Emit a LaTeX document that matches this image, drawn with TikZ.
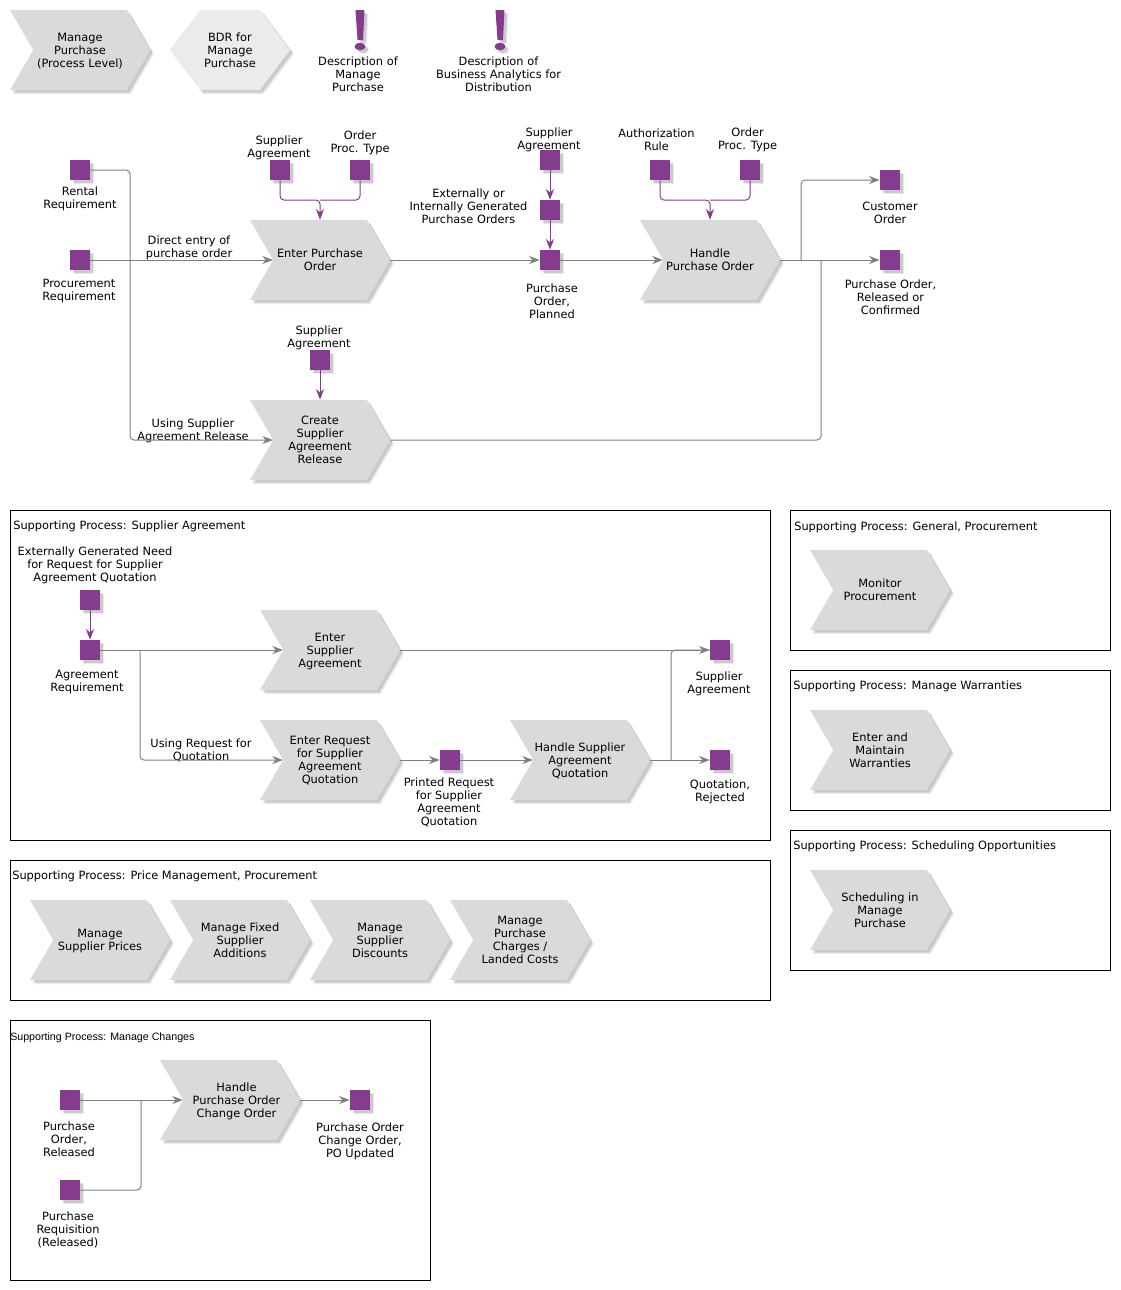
\documentclass[tikz,border=0pt]{standalone}
\usepackage{fontspec}
\setmainfont{DejaVu Sans}
\newfontfamily\titlefont{Liberation Sans}
\usetikzlibrary{shapes.symbols,shadows,arrows.meta}
\definecolor{procgray}{HTML}{D9DADC}
\definecolor{bdrgray}{HTML}{EBEBE9}
\definecolor{objpurple}{HTML}{863C8E}
\definecolor{flowgray}{HTML}{7F7F7F}
\begin{document}
\begin{tikzpicture}[
  x=0.75pt, y=-0.75pt,
  softshadow/.style={drop shadow={shadow xshift=3pt, shadow yshift=-3pt, fill=black, opacity=0.08}, drop shadow={shadow xshift=2pt, shadow yshift=-2pt, fill=black, opacity=0.14}},
  proc/.style={signal, signal from=west, signal to=east, signal pointer angle=119.6, fill=procgray, minimum width=105pt, minimum height=60pt, inner sep=0pt, font=\fontsize{8.55}{9.75}\selectfont, align=center, text depth=-1pt, softshadow},
  bdr/.style={signal, signal to=east and west, signal pointer angle=106, fill=bdrgray, minimum width=90pt, minimum height=60pt, inner sep=0pt, font=\fontsize{8.55}{9.75}\selectfont, align=center, text depth=-1pt, softshadow},
  obj/.style={rectangle, fill=objpurple, minimum size=15pt, inner sep=0pt, softshadow},
  lbl/.style={inner sep=0pt, font=\fontsize{8.55}{9.75}\selectfont, align=center},
  frame/.style={draw=black, line width=0.75pt},
  frametitle/.style={inner sep=0pt, anchor=west, yshift=-0.75pt, font=\fontsize{8.55}{9.75}\selectfont},
  bang/.style={fill=objpurple, softshadow},
  flow/.style={->, >={Stealth[length=8pt,width=6pt]}, draw=flowgray, line width=0.75pt, rounded corners=3pt},
  line/.style={draw=flowgray, line width=0.75pt, rounded corners=3pt},
  link/.style={->, >={Stealth[length=8pt,width=6pt]}, draw=objpurple, line width=0.75pt, rounded corners=3pt},
  linkline/.style={draw=objpurple, line width=0.75pt, rounded corners=3pt}
]
  \useasboundingbox (0,0) rectangle (1121,1290);

  % Kopfzeile
  \node[proc] (head) at (80,50) {Manage\\Purchase\\(Process Level)};
  \node[bdr] (bdrhead) at (230,50) {BDR for\\Manage\\Purchase};
  \fill[bang] (355.5,10) -- (364.5,10) -- (363,40) -- (357.5,40) -- cycle;
  \fill[bang] (360,46.5) ellipse (5.5 and 3.8);
  \fill[bang] (495.5,10) -- (504.5,10) -- (503,40) -- (497.5,40) -- cycle;
  \fill[bang] (500,46.5) ellipse (5.5 and 3.8);
  \node[lbl] (desca) at (358,74) {Description of\\Manage\\Purchase};
  \node[lbl] (descb) at (498.5,74) {Description of\\Business Analytics for\\Distribution};

  % Hauptprozess
  \node[obj] (rental) at (80,170) {};
  \node[lbl] (rentaltxt) at (80,198.5) {Rental\\Requirement};
  \node[obj] (procreq) at (80,260) {};
  \node[lbl] (procreqtxt) at (79,291.5) {Procurement\\Requirement};
  \node[proc] (enter) at (320,260) {Enter Purchase\\Order};
  \node[proc] (create) at (320,440) {Create\\Supplier\\Agreement\\Release};
  \node[proc] (handle) at (710,260) {Handle\\Purchase Order};
  \node[obj] (suppa) at (280,170) {};
  \node[lbl] (suppatxt) at (279,147.5) {Supplier\\Agreement};
  \node[obj] (ordera) at (360,170) {};
  \node[lbl] (orderatxt) at (360,142.5) {Order\\Proc. Type};
  \node[obj] (suppb) at (320,360) {};
  \node[lbl] (suppbtxt) at (319,337.5) {Supplier\\Agreement};
  \node[obj] (suppc) at (550,160) {};
  \node[lbl] (suppctxt) at (549,139.5) {Supplier\\Agreement};
  \node[obj] (extern) at (550,210) {};
  \node[lbl] (externtxt) at (468.5,206) {Externally or\\Internally Generated\\Purchase Orders};
  \node[obj] (planned) at (550,260) {};
  \node[lbl] (plannedtxt) at (552,301) {Purchase\\Order,\\Planned};
  \node[obj] (rule) at (660,170) {};
  \node[lbl] (ruletxt) at (656.5,139.5) {Authorization\\Rule};
  \node[obj] (orderb) at (750,170) {};
  \node[lbl] (orderbtxt) at (747.5,139.5) {Order\\Proc. Type};
  \node[obj] (custorder) at (890,180) {};
  \node[lbl] (custordertxt) at (890,212.5) {Customer\\Order};
  \node[obj] (released) at (890,260) {};
  \node[lbl] (releasedtxt) at (890.5,297) {Purchase Order,\\Released or\\Confirmed};
  \node[lbl] (directtxt) at (189,247.5) {Direct entry of\\purchase order};
  \node[lbl] (usingtxt) at (193,430.5) {Using Supplier\\Agreement Release};

  \coordinate (busa) at (130,260);
  \coordinate (busc) at (801,260);
  \coordinate (busd) at (821,260);
  \coordinate (buse) at (320,200);
  \coordinate (busf) at (710,200);
  \draw[line] (rental.east) -| (busa);
  \draw[flow] (procreq.east) -- (enter.west);
  \draw[flow] (busa) |- (create.west);
  \draw[flow] (enter.east) -- (planned.west);
  \draw[flow] (planned.east) -- (handle.west);
  \draw[flow] (handle.east) -- (released.west);
  \draw[flow] (busc) |- (custorder.west);
  \draw[line] (create.east) -| (busd);
  \draw[link] (suppa.south) |- (buse) -- (enter.north);
  \draw[linkline] (ordera.south) |- (buse);
  \draw[link] (suppb.south) -- (create.north);
  \draw[link] (suppc.south) -- (extern.north);
  \draw[link] (extern.south) -- (planned.north);
  \draw[link] (rule.south) |- (busf) -- (handle.north);
  \draw[linkline] (orderb.south) |- (busf);

  % Supporting Process: Supplier Agreement
  \draw[frame] (10,510) rectangle (770,840);
  \node[frametitle] (titlea) at (13,525) {Supporting Process: Supplier Agreement};
  \node[lbl] (needtxt) at (95,565) {Externally Generated Need\\for Request for Supplier\\Agreement Quotation};
  \node[obj] (need) at (90,600) {};
  \node[obj] (agreereq) at (90,650) {};
  \node[lbl] (agreereqtxt) at (87,682.5) {Agreement\\Requirement};
  \node[proc] (entersa) at (330,650) {Enter\\Supplier\\Agreement};
  \node[proc] (enterrfq) at (330,760) {Enter Request\\for Supplier\\Agreement\\Quotation};
  \node[obj] (printed) at (450,760) {};
  \node[lbl] (printedtxt) at (449,802.5) {Printed Request\\for Supplier\\Agreement\\Quotation};
  \node[proc] (handlesa) at (580,760) {Handle Supplier\\Agreement\\Quotation};
  \node[obj] (suppres) at (720,650) {};
  \node[lbl] (suppretxt) at (719,683.5) {Supplier\\Agreement};
  \node[obj] (rejected) at (720,760) {};
  \node[lbl] (rejectedtxt) at (720,791.5) {Quotation,\\Rejected};
  \node[lbl] (rfqtxt) at (201,750.5) {Using Request for\\Quotation};

  \coordinate (busg) at (140,650);
  \coordinate (bush) at (671,760);
  \draw[link] (need.south) -- (agreereq.north);
  \draw[flow] (agreereq.east) -- (entersa.west);
  \draw[flow] (busg) |- (enterrfq.west);
  \draw[flow] (entersa.east) -- (suppres.west);
  \draw[flow] (enterrfq.east) -- (printed.west);
  \draw[flow] (printed.east) -- (handlesa.west);
  \draw[flow] (handlesa.east) -- (rejected.west);
  \draw[line] (bush) |- (suppres.west);

  % Supporting Process: rechts
  \draw[frame] (790,510) rectangle (1110,650);
  \node[frametitle] (titleb) at (794,526) {Supporting Process: General, Procurement};
  \node[proc] (monitor) at (880,590) {Monitor\\Procurement};
  \draw[frame] (790,670) rectangle (1110,810);
  \node[frametitle] (titlec) at (793,685) {Supporting Process: Manage Warranties};
  \node[proc] (warranty) at (880,750) {Enter and\\Maintain\\Warranties};
  \draw[frame] (790,830) rectangle (1110,970);
  \node[frametitle] (titled) at (793,845) {Supporting Process: Scheduling Opportunities};
  \node[proc] (sched) at (880,910) {Scheduling in\\Manage\\Purchase};

  % Supporting Process: Price Management
  \draw[frame] (10,860) rectangle (770,1000);
  \node[frametitle] (titlee) at (12,875) {Supporting Process: Price Management, Procurement};
  \node[proc] (prices) at (100,940) {Manage\\Supplier Prices};
  \node[proc] (fixed) at (240,940) {Manage Fixed\\Supplier\\Additions};
  \node[proc] (disc) at (380,940) {Manage\\Supplier\\Discounts};
  \node[proc] (landed) at (520,940) {Manage\\Purchase\\Charges /\\Landed Costs};

  % Supporting Process: Manage Changes
  \draw[frame] (10,1020) rectangle (430,1280);
  \node[frametitle, font=\titlefont\fontsize{8}{9.75}\selectfont] (titlef) at (10,1037) {Supporting Process: Manage Changes};
  \node[obj] (poreleased) at (70,1100) {};
  \node[lbl] (poreleasedtxt) at (69,1139) {Purchase\\Order,\\Released};
  \node[obj] (requisition) at (70,1190) {};
  \node[lbl] (requisitiontxt) at (68,1230) {Purchase\\Requisition\\(Released)};
  \node[proc] (change) at (230,1100) {};
  \node[lbl] (changetxt) at (236.5,1101) {Handle\\Purchase Order\\Change Order};
  \node[obj] (updated) at (360,1100) {};
  \node[lbl] (updatedtxt) at (360,1141) {Purchase Order\\Change Order,\\PO Updated};

  \coordinate (busi) at (141,1100);
  \draw[flow] (poreleased.east) -- (change.west);
  \draw[line] (requisition.east) -| (busi);
  \draw[flow] (change.east) -- (updated.west);
\end{tikzpicture}
\end{document}
